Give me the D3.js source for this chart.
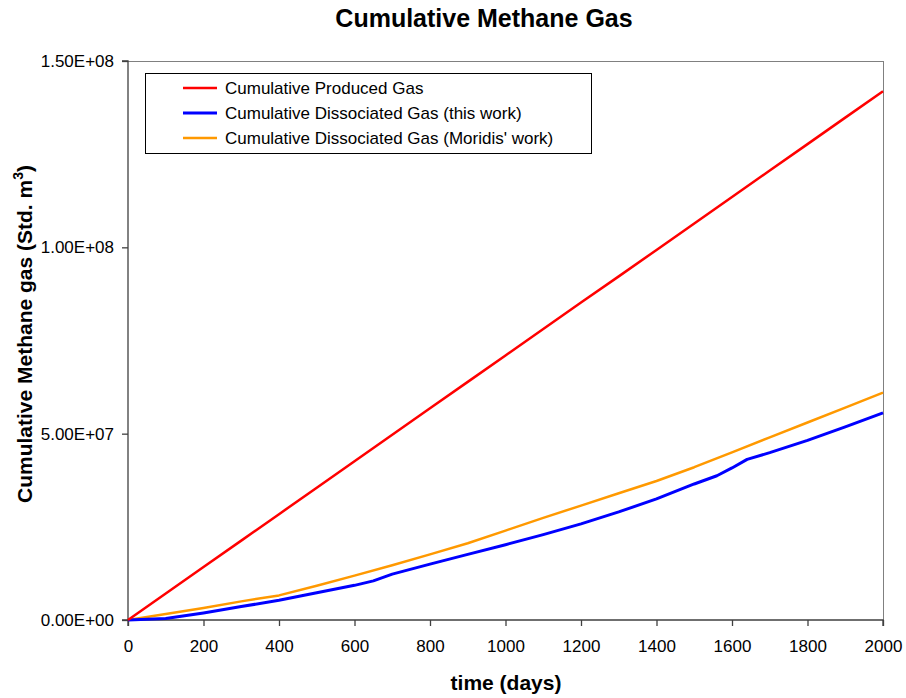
<!DOCTYPE html>
<html>
<head>
<meta charset="utf-8">
<script src="https://cdn.jsdelivr.net/npm/d3@7/dist/d3.min.js"></script>
<style>
  html, body { margin: 0; padding: 0; background: #fff; }
  svg text { font-family: "Liberation Sans", Arial, sans-serif; fill: #000; }
</style>
</head>
<body>
<svg id="chart" width="906" height="698"></svg>
<script>
// Cumulative methane gas (Std. m^3) versus time (days)
const producedDays = [0, 100, 200, 300, 400, 500, 600, 700, 800, 900, 1000, 1100, 1200, 1300, 1400, 1500, 1600, 1700, 1800, 1900, 2000];
const producedGas = [0, 7.1e6, 14.2e6, 21.3e6, 28.4e6, 35.5e6, 42.6e6, 49.7e6, 56.8e6, 63.9e6, 71.0e6, 78.1e6, 85.2e6, 92.2e6, 99.3e6, 106.4e6, 113.5e6, 120.6e6, 127.7e6, 134.8e6, 141.9e6];

const thisWorkDays = [0, 100, 200, 300, 400, 500, 600, 650, 700, 800, 900, 1000, 1100, 1200, 1300, 1400, 1500, 1560, 1600, 1640, 1700, 1800, 1900, 2000];
const thisWorkGas = [0, 0.4e6, 1.9e6, 3.6e6, 5.3e6, 7.3e6, 9.3e6, 10.5e6, 12.3e6, 15.0e6, 17.6e6, 20.2e6, 22.9e6, 25.8e6, 29.0e6, 32.5e6, 36.5e6, 38.7e6, 40.8e6, 43.1e6, 44.9e6, 48.2e6, 51.8e6, 55.6e6];

const moridisDays = [0, 100, 200, 300, 400, 500, 600, 700, 800, 900, 1000, 1100, 1200, 1300, 1400, 1500, 1600, 1700, 1800, 1900, 2000];
const moridisGas = [0, 1.6e6, 3.2e6, 5.0e6, 6.6e6, 9.2e6, 11.9e6, 14.7e6, 17.6e6, 20.6e6, 24.0e6, 27.4e6, 30.7e6, 34.0e6, 37.3e6, 41.0e6, 45.0e6, 49.0e6, 53.0e6, 57.0e6, 61.0e6];

const xTicks = [0, 200, 400, 600, 800, 1000, 1200, 1400, 1600, 1800, 2000];
const yTicks = [0, 5e7, 1e8, 1.5e8];
const yTickLabels = ["0.00E+00", "5.00E+07", "1.00E+08", "1.50E+08"];

const seriesNames = ["Cumulative Produced Gas", "Cumulative Dissociated Gas (this work)", "Cumulative Dissociated Gas (Moridis' work)"];
const seriesColors = ["#ff0000", "#0000ff", "#ff9900"];

const svg = d3.select("#chart");
const plotLeft = 128, plotRight = 883, plotTop = 61, plotBottom = 620;

const x = d3.scaleLinear().domain([0, 2000]).range([plotLeft, plotRight]);
const y = d3.scaleLinear().domain([0, 1.5e8]).range([plotBottom, plotTop]);

// plot frame: light top/right edges
svg.append("line").attr("x1", plotLeft).attr("x2", plotRight).attr("y1", plotTop + 0.5).attr("y2", plotTop + 0.5)
  .attr("stroke", "#808080").attr("stroke-width", 1);
svg.append("line").attr("x1", plotRight + 0.5).attr("x2", plotRight + 0.5).attr("y1", plotTop).attr("y2", plotBottom)
  .attr("stroke", "#808080").attr("stroke-width", 1);

// axes
const xAxis = svg.append("g").attr("transform", `translate(0,${plotBottom})`)
  .call(d3.axisBottom(x).tickValues(xTicks).tickSize(6).tickPadding(14).tickFormat(d3.format("d")));
const yAxis = svg.append("g").attr("transform", `translate(${plotLeft},0)`)
  .call(d3.axisLeft(y).tickValues(yTicks).tickSize(6).tickPadding(8).tickFormat((d, i) => yTickLabels[i]));

[xAxis, yAxis].forEach(g => {
  g.select(".domain").attr("stroke", "#404040").attr("stroke-width", 1.3);
  g.selectAll(".tick line").attr("stroke", "#404040").attr("stroke-width", 1.3);
  g.selectAll(".tick text").attr("font-size", 17).attr("fill", "#000")
    .attr("font-family", "Liberation Sans, Arial, sans-serif");
});
yAxis.select(".domain").attr("d", `M-6,${plotTop}H0V${plotBottom}H-6`);
xAxis.select(".domain").attr("d", `M${plotLeft},6V0H${plotRight}V6`);

// series lines
const line = d3.line().x(d => x(d[0])).y(d => y(d[1]));
const series = [
  d3.zip(producedDays, producedGas),
  d3.zip(thisWorkDays, thisWorkGas),
  d3.zip(moridisDays, moridisGas)
];
const widths = [2.5, 3, 2.5];
[2, 1, 0].forEach(i => {
  svg.append("path").datum(series[i]).attr("d", line)
    .attr("fill", "none").attr("stroke", seriesColors[i]).attr("stroke-width", widths[i])
    .attr("stroke-linejoin", "round");
});

// title
svg.append("text").attr("x", 484).attr("y", 27).attr("text-anchor", "middle")
  .attr("font-size", 25).attr("font-weight", "bold").text("Cumulative Methane Gas");

// x axis title
svg.append("text").attr("x", 506).attr("y", 690).attr("text-anchor", "middle")
  .attr("font-size", 21).attr("font-weight", "bold").text("time (days)");

// y axis title
const yTitle = svg.append("text").attr("transform", "translate(32,334) rotate(-90)")
  .attr("text-anchor", "middle").attr("font-size", 21).attr("font-weight", "bold");
yTitle.append("tspan").text("Cumulative Methane gas (Std. m");
yTitle.append("tspan").attr("font-size", 14).attr("dy", -9).text("3");
yTitle.append("tspan").attr("dy", 9).text(")");

// legend
const legend = svg.append("g");
legend.append("rect").attr("x", 145.5).attr("y", 73.5).attr("width", 446).attr("height", 80)
  .attr("fill", "#fff").attr("stroke", "#000").attr("stroke-width", 1);
seriesNames.forEach((name, i) => {
  const cy = 88 + i * 25;
  legend.append("line").attr("x1", 183).attr("x2", 217).attr("y1", cy).attr("y2", cy)
    .attr("stroke", seriesColors[i]).attr("stroke-width", i === 1 ? 3 : 2.5);
  legend.append("text").attr("x", 225).attr("y", cy + 6).attr("font-size", 17).text(name);
});
</script>
</body>
</html>
